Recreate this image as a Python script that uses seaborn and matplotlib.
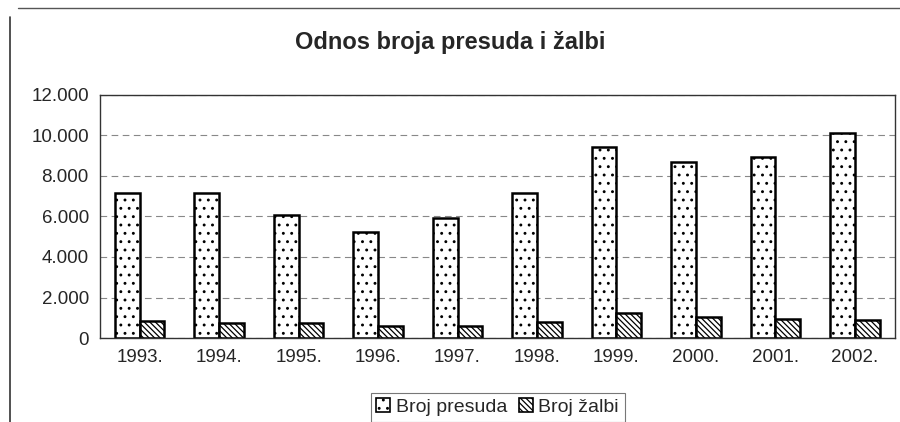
import matplotlib
matplotlib.use("Agg")
import matplotlib.pyplot as plt
import seaborn as sns
import pandas as pd
from matplotlib.ticker import FuncFormatter
from matplotlib.patches import Patch
from matplotlib.lines import Line2D

years = ["1993.", "1994.", "1995.", "1996.", "1997.", "1998.", "1999.", "2000.", "2001.", "2002."]
presude = [7150, 7140, 6070, 5230, 5940, 7150, 9430, 8680, 8920, 10140]
zalbe = [820, 740, 725, 610, 610, 790, 1230, 1050, 940, 870]
series_names = ["Broj presuda", "Broj žalbi"]

df = pd.DataFrame({
    "year": years * 2,
    "value": presude + zalbe,
    "series": [series_names[0]] * len(years) + [series_names[1]] * len(years),
})

sns.set_style("white")
plt.rcParams['font.family'] = ['Liberation Sans', 'DejaVu Sans']
plt.rcParams['hatch.linewidth'] = 0.9

fig = plt.figure(figsize=(9, 4.22), dpi=100)
ax = fig.add_axes([0.111, 0.199, 0.883, 0.576])

sns.barplot(data=df, x="year", y="value", hue="series", ax=ax,
            palette=["white", "white"], edgecolor="black", linewidth=1.8,
            width=0.62, legend=False, saturation=1)

hatches = ["..", "\\\\\\\\\\\\"]
n = len(years)
for i, bar in enumerate(ax.patches[:2 * n]):
    bar.set_hatch(hatches[i // n])

ax.set_ylim(0, 12000)
ax.set_yticks(range(0, 12001, 2000))
ax.yaxis.set_major_formatter(FuncFormatter(lambda v, p: f"{int(v):,}".replace(",", ".")))
ax.grid(axis="y", linestyle=(0, (6, 4)), color="#888888", linewidth=0.8)
ax.set_axisbelow(True)
for s in ax.spines.values():
    s.set_color("#333333")
    s.set_linewidth(1.0)
ax.set_xlabel("")
ax.set_ylabel("")
ax.tick_params(axis="both", labelsize=13.5, length=0, pad=8)

fig.text(0.5, 0.9, "Odnos broja presuda i žalbi", ha="center", va="center",
         fontsize=17, fontweight="bold")

# Outer frame lines (top and left)
fig.add_artist(Line2D([0.02, 1.0], [0.981, 0.981], color="#555555", linewidth=1.0,
                      transform=fig.transFigure))
fig.add_artist(Line2D([0.011, 0.011], [0.0, 0.96], color="#333333", linewidth=1.2,
                      transform=fig.transFigure))

handles = [Patch(facecolor="white", edgecolor="black", hatch=h, linewidth=1.2) for h in hatches]
leg = fig.legend(handles, series_names, loc="center", bbox_to_anchor=(0.553, 0.035),
                 ncol=2, fontsize=14, frameon=True, fancybox=False, edgecolor="#555555",
                 handlelength=0.7, handleheight=0.7, handletextpad=0.3, columnspacing=0.6,
                 borderpad=0.3)
leg.get_frame().set_linewidth(0.8)

fig.savefig("out.png", dpi=100)
